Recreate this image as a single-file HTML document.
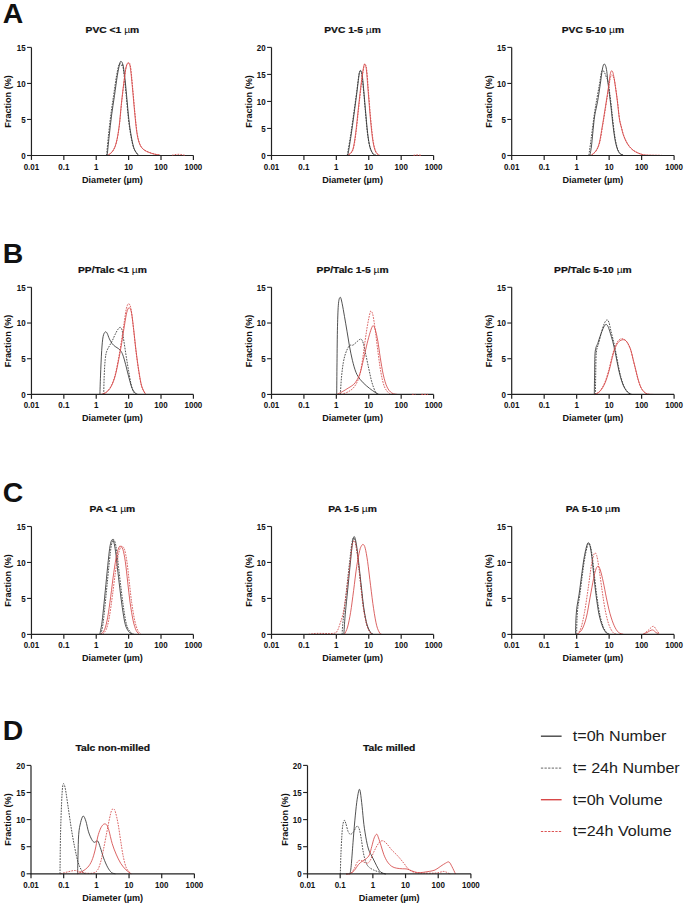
<!DOCTYPE html>
<html><head><meta charset="utf-8"><style>
html,body{margin:0;padding:0;background:#fff;}
svg{display:block;font-family:"Liberation Sans", sans-serif;}
text{fill:#111;}
</style></head><body>
<svg width="685" height="908" viewBox="0 0 685 908">
<text x="2.8" y="23.4" font-size="28.4" font-weight="bold">A</text>
<path d="M107.20,155.20 C107.53,151.98 108.47,142.58 109.20,135.90 C109.93,129.22 110.72,121.83 111.60,115.10 C112.48,108.37 113.55,102.05 114.50,95.50 C115.45,88.95 116.43,81.10 117.30,75.80 C118.17,70.50 119.05,66.10 119.70,63.70 C120.35,61.30 120.63,61.12 121.20,61.40 C121.77,61.68 122.48,62.62 123.10,65.40 C123.72,68.18 124.32,73.08 124.90,78.10 C125.48,83.12 125.93,88.57 126.60,95.50 C127.27,102.43 128.13,112.97 128.90,119.70 C129.67,126.43 130.33,131.08 131.20,135.90 C132.07,140.72 132.93,145.42 134.10,148.60 C135.27,151.78 137.52,153.93 138.20,155.00" fill="none" stroke="#333" stroke-width="0.85" stroke-linejoin="round"/>
<path d="M106.60,155.20 C106.90,152.00 107.70,142.70 108.40,136.00 C109.10,129.30 109.93,121.75 110.80,115.00 C111.67,108.25 112.65,102.00 113.60,95.50 C114.55,89.00 115.62,81.08 116.50,76.00 C117.38,70.92 118.27,67.13 118.90,65.00 C119.53,62.87 119.87,63.12 120.30,63.20 C120.73,63.28 121.12,65.23 121.50,65.50 C121.88,65.77 122.15,63.05 122.60,64.80 C123.05,66.55 123.60,70.88 124.20,76.00 C124.80,81.12 125.48,88.22 126.20,95.50 C126.92,102.78 127.72,112.95 128.50,119.70 C129.28,126.45 130.00,131.18 130.90,136.00 C131.80,140.82 132.72,145.43 133.90,148.60 C135.08,151.77 137.32,153.93 138.00,155.00" fill="none" stroke="#333" stroke-width="0.85" stroke-dasharray="1.7,1.1" stroke-linejoin="round"/>
<path d="M108.10,155.20 C108.87,154.50 111.35,153.05 112.70,151.00 C114.05,148.95 115.13,146.95 116.20,142.90 C117.27,138.85 118.23,133.25 119.10,126.70 C119.97,120.15 120.63,110.73 121.40,103.60 C122.17,96.47 122.93,89.88 123.70,83.90 C124.47,77.92 125.23,71.13 126.00,67.70 C126.77,64.27 127.58,63.30 128.30,63.30 C129.02,63.30 129.62,63.68 130.30,67.70 C130.98,71.72 131.67,79.88 132.40,87.40 C133.13,94.92 133.93,105.10 134.70,112.80 C135.47,120.50 136.13,128.30 137.00,133.60 C137.87,138.90 138.75,141.90 139.90,144.60 C141.05,147.30 142.27,148.45 143.90,149.80 C145.53,151.15 147.77,151.93 149.70,152.70 C151.63,153.47 153.78,153.98 155.50,154.40 C157.22,154.82 159.25,155.07 160.00,155.20" fill="none" stroke="#d44848" stroke-width="0.85" stroke-linejoin="round"/>
<path d="M108.30,155.20 C109.07,154.50 111.55,153.12 112.90,151.00 C114.25,148.88 115.33,146.67 116.40,142.50 C117.47,138.33 118.43,132.58 119.30,126.00 C120.17,119.42 120.83,110.17 121.60,103.00 C122.37,95.83 123.13,89.08 123.90,83.00 C124.67,76.92 125.42,69.92 126.20,66.50 C126.98,63.08 127.87,62.42 128.60,62.50 C129.33,62.58 129.93,62.92 130.60,67.00 C131.27,71.08 131.88,79.37 132.60,87.00 C133.32,94.63 134.13,105.03 134.90,112.80 C135.67,120.57 136.33,128.30 137.20,133.60 C138.07,138.90 138.95,141.90 140.10,144.60 C141.25,147.30 142.45,148.45 144.10,149.80 C145.75,151.15 148.02,151.93 150.00,152.70 C151.98,153.47 154.25,153.98 156.00,154.40 C157.75,154.82 159.75,155.07 160.50,155.20" fill="none" stroke="#d44848" stroke-width="0.85" stroke-dasharray="1.7,1.1" stroke-linejoin="round"/>
<path d="M31.45,47.40 V155.50 H193.40" fill="none" stroke="#222" stroke-width="1.2"/>
<path d="M172.00,155.20 C172.50,155.10 173.83,154.75 175.00,154.60 C176.17,154.45 177.67,154.25 179.00,154.30 C180.33,154.35 182.00,154.73 183.00,154.90 C184.00,155.07 184.67,155.23 185.00,155.30" fill="none" stroke="#d44848" stroke-width="0.85" stroke-dasharray="1.7,1.1"/>
<line x1="27.05" y1="155.50" x2="31.45" y2="155.50" stroke="#222" stroke-width="1.1"/>
<text transform="translate(25.65,158.80) scale(0.860,1)" font-size="9.30" font-weight="bold" text-anchor="end">0</text>
<line x1="27.05" y1="119.47" x2="31.45" y2="119.47" stroke="#222" stroke-width="1.1"/>
<text transform="translate(25.65,122.77) scale(0.860,1)" font-size="9.30" font-weight="bold" text-anchor="end">5</text>
<line x1="27.05" y1="83.43" x2="31.45" y2="83.43" stroke="#222" stroke-width="1.1"/>
<text transform="translate(25.65,86.73) scale(0.860,1)" font-size="9.30" font-weight="bold" text-anchor="end">10</text>
<line x1="27.05" y1="47.40" x2="31.45" y2="47.40" stroke="#222" stroke-width="1.1"/>
<text transform="translate(25.65,50.70) scale(0.860,1)" font-size="9.30" font-weight="bold" text-anchor="end">15</text>
<line x1="31.45" y1="155.50" x2="31.45" y2="159.90" stroke="#222" stroke-width="1.2"/>
<text transform="translate(31.45,169.50) scale(0.860,1)" font-size="9.30" font-weight="bold" text-anchor="middle">0.01</text>
<line x1="63.84" y1="155.50" x2="63.84" y2="159.90" stroke="#222" stroke-width="1.2"/>
<text transform="translate(63.84,169.50) scale(0.860,1)" font-size="9.30" font-weight="bold" text-anchor="middle">0.1</text>
<line x1="96.23" y1="155.50" x2="96.23" y2="159.90" stroke="#222" stroke-width="1.2"/>
<text transform="translate(96.23,169.50) scale(0.860,1)" font-size="9.30" font-weight="bold" text-anchor="middle">1</text>
<line x1="128.62" y1="155.50" x2="128.62" y2="159.90" stroke="#222" stroke-width="1.2"/>
<text transform="translate(128.62,169.50) scale(0.860,1)" font-size="9.30" font-weight="bold" text-anchor="middle">10</text>
<line x1="161.01" y1="155.50" x2="161.01" y2="159.90" stroke="#222" stroke-width="1.2"/>
<text transform="translate(161.01,169.50) scale(0.860,1)" font-size="9.30" font-weight="bold" text-anchor="middle">100</text>
<line x1="193.40" y1="155.50" x2="193.40" y2="159.90" stroke="#222" stroke-width="1.2"/>
<text transform="translate(193.40,169.50) scale(0.860,1)" font-size="9.30" font-weight="bold" text-anchor="middle">1000</text>
<text x="112.42" y="182.50" font-size="9.1" font-weight="bold" text-anchor="middle">Diameter (µm)</text>
<text transform="translate(11.45,101.45) rotate(-90)" font-size="9.1" font-weight="bold" text-anchor="middle">Fraction (%)</text>
<text transform="translate(112.42,32.70) scale(1.05,1)" font-size="9.8" font-weight="bold" text-anchor="middle" style="stroke:#111;stroke-width:0.22px">PVC <1 <tspan font-weight="normal" style="stroke:none">µ</tspan>m</text>
<path d="M347.90,155.20 C348.42,151.98 350.00,142.58 351.00,135.90 C352.00,129.22 352.93,122.22 353.90,115.10 C354.87,107.98 355.93,99.93 356.80,93.20 C357.67,86.47 358.53,78.47 359.10,74.70 C359.67,70.93 359.72,70.80 360.20,70.60 C360.68,70.40 361.42,70.32 362.00,73.50 C362.58,76.68 363.13,83.73 363.70,89.70 C364.27,95.67 364.73,101.98 365.40,109.30 C366.07,116.62 366.92,127.23 367.70,133.60 C368.48,139.97 369.13,144.03 370.10,147.50 C371.07,150.97 372.52,153.12 373.50,154.40 C374.48,155.68 375.58,155.07 376.00,155.20" fill="none" stroke="#333" stroke-width="0.85" stroke-linejoin="round"/>
<path d="M347.30,155.20 C347.83,151.98 349.47,142.58 350.50,135.90 C351.53,129.22 352.50,122.22 353.50,115.10 C354.50,107.98 355.62,99.80 356.50,93.20 C357.38,86.60 358.22,79.12 358.80,75.50 C359.38,71.88 359.52,71.75 360.00,71.50 C360.48,71.25 361.12,70.92 361.70,74.00 C362.28,77.08 362.92,84.12 363.50,90.00 C364.08,95.88 364.53,102.03 365.20,109.30 C365.87,116.57 366.70,127.23 367.50,133.60 C368.30,139.97 369.02,144.03 370.00,147.50 C370.98,150.97 372.40,153.12 373.40,154.40 C374.40,155.68 375.57,155.07 376.00,155.20" fill="none" stroke="#333" stroke-width="0.85" stroke-dasharray="1.7,1.1" stroke-linejoin="round"/>
<path d="M348.10,155.20 C348.87,154.30 351.45,153.40 352.70,149.80 C353.95,146.20 354.63,140.73 355.60,133.60 C356.57,126.47 357.53,115.67 358.50,107.00 C359.47,98.33 360.53,88.33 361.40,81.60 C362.27,74.87 363.12,69.40 363.70,66.60 C364.28,63.80 364.45,64.23 364.90,64.80 C365.35,65.37 365.83,65.27 366.40,70.00 C366.97,74.73 367.60,84.72 368.30,93.20 C369.00,101.68 369.82,112.82 370.60,120.90 C371.38,128.98 372.13,136.50 373.00,141.70 C373.87,146.90 374.75,149.85 375.80,152.10 C376.85,154.35 378.72,154.68 379.30,155.20" fill="none" stroke="#d44848" stroke-width="0.85" stroke-linejoin="round"/>
<path d="M348.50,155.20 C349.25,154.30 351.77,153.40 353.00,149.80 C354.23,146.20 354.93,140.73 355.90,133.60 C356.87,126.47 357.83,115.67 358.80,107.00 C359.77,98.33 360.83,88.43 361.70,81.60 C362.57,74.77 363.43,68.93 364.00,66.00 C364.57,63.07 364.65,63.42 365.10,64.00 C365.55,64.58 366.12,64.63 366.70,69.50 C367.28,74.37 367.90,84.63 368.60,93.20 C369.30,101.77 370.12,112.82 370.90,120.90 C371.68,128.98 372.43,136.50 373.30,141.70 C374.17,146.90 375.05,149.85 376.10,152.10 C377.15,154.35 379.02,154.68 379.60,155.20" fill="none" stroke="#d44848" stroke-width="0.85" stroke-dasharray="1.7,1.1" stroke-linejoin="round"/>
<path d="M271.50,47.40 V155.50 H433.60" fill="none" stroke="#222" stroke-width="1.2"/>
<path d="M413.50,155.30 C414.08,155.25 415.72,155.00 417.00,155.00 C418.28,155.00 420.50,155.25 421.20,155.30" fill="none" stroke="#d44848" stroke-width="1.00" stroke-dasharray="1.7,1.1"/>
<line x1="267.10" y1="155.50" x2="271.50" y2="155.50" stroke="#222" stroke-width="1.1"/>
<text transform="translate(265.70,158.80) scale(0.860,1)" font-size="9.30" font-weight="bold" text-anchor="end">0</text>
<line x1="267.10" y1="128.47" x2="271.50" y2="128.47" stroke="#222" stroke-width="1.1"/>
<text transform="translate(265.70,131.78) scale(0.860,1)" font-size="9.30" font-weight="bold" text-anchor="end">5</text>
<line x1="267.10" y1="101.45" x2="271.50" y2="101.45" stroke="#222" stroke-width="1.1"/>
<text transform="translate(265.70,104.75) scale(0.860,1)" font-size="9.30" font-weight="bold" text-anchor="end">10</text>
<line x1="267.10" y1="74.42" x2="271.50" y2="74.42" stroke="#222" stroke-width="1.1"/>
<text transform="translate(265.70,77.72) scale(0.860,1)" font-size="9.30" font-weight="bold" text-anchor="end">15</text>
<line x1="267.10" y1="47.40" x2="271.50" y2="47.40" stroke="#222" stroke-width="1.1"/>
<text transform="translate(265.70,50.70) scale(0.860,1)" font-size="9.30" font-weight="bold" text-anchor="end">20</text>
<line x1="271.50" y1="155.50" x2="271.50" y2="159.90" stroke="#222" stroke-width="1.2"/>
<text transform="translate(271.50,169.50) scale(0.860,1)" font-size="9.30" font-weight="bold" text-anchor="middle">0.01</text>
<line x1="303.92" y1="155.50" x2="303.92" y2="159.90" stroke="#222" stroke-width="1.2"/>
<text transform="translate(303.92,169.50) scale(0.860,1)" font-size="9.30" font-weight="bold" text-anchor="middle">0.1</text>
<line x1="336.34" y1="155.50" x2="336.34" y2="159.90" stroke="#222" stroke-width="1.2"/>
<text transform="translate(336.34,169.50) scale(0.860,1)" font-size="9.30" font-weight="bold" text-anchor="middle">1</text>
<line x1="368.76" y1="155.50" x2="368.76" y2="159.90" stroke="#222" stroke-width="1.2"/>
<text transform="translate(368.76,169.50) scale(0.860,1)" font-size="9.30" font-weight="bold" text-anchor="middle">10</text>
<line x1="401.18" y1="155.50" x2="401.18" y2="159.90" stroke="#222" stroke-width="1.2"/>
<text transform="translate(401.18,169.50) scale(0.860,1)" font-size="9.30" font-weight="bold" text-anchor="middle">100</text>
<line x1="433.60" y1="155.50" x2="433.60" y2="159.90" stroke="#222" stroke-width="1.2"/>
<text transform="translate(433.60,169.50) scale(0.860,1)" font-size="9.30" font-weight="bold" text-anchor="middle">1000</text>
<text x="352.55" y="182.50" font-size="9.1" font-weight="bold" text-anchor="middle">Diameter (µm)</text>
<text transform="translate(251.50,101.45) rotate(-90)" font-size="9.1" font-weight="bold" text-anchor="middle">Fraction (%)</text>
<text transform="translate(352.55,32.70) scale(1.05,1)" font-size="9.8" font-weight="bold" text-anchor="middle" style="stroke:#111;stroke-width:0.22px">PVC 1-5 <tspan font-weight="normal" style="stroke:none">µ</tspan>m</text>
<path d="M590.00,155.20 C590.25,153.67 591.07,149.37 591.50,146.00 C591.93,142.63 592.23,138.67 592.60,135.00 C592.97,131.33 593.32,127.42 593.70,124.00 C594.08,120.58 594.25,118.28 594.90,114.50 C595.55,110.72 596.72,106.25 597.60,101.30 C598.48,96.35 599.43,89.98 600.20,84.80 C600.97,79.62 601.60,73.62 602.20,70.20 C602.80,66.78 603.25,65.07 603.80,64.30 C604.35,63.53 605.00,64.40 605.50,65.60 C606.00,66.80 606.42,68.87 606.80,71.50 C607.18,74.13 607.35,77.53 607.80,81.40 C608.25,85.27 608.95,90.28 609.50,94.70 C610.05,99.12 610.68,104.27 611.10,107.90 C611.52,111.53 611.63,113.18 612.00,116.50 C612.37,119.82 612.80,123.93 613.30,127.80 C613.80,131.67 614.33,136.18 615.00,139.70 C615.67,143.22 616.48,146.58 617.30,148.90 C618.12,151.22 618.92,152.55 619.90,153.60 C620.88,154.65 622.65,154.93 623.20,155.20" fill="none" stroke="#333" stroke-width="0.85" stroke-linejoin="round"/>
<path d="M588.90,155.20 C589.28,152.38 590.30,145.08 591.20,138.30 C592.10,131.52 593.33,121.22 594.30,114.50 C595.27,107.78 596.13,103.08 597.00,98.00 C597.87,92.92 598.75,88.30 599.50,84.00 C600.25,79.70 600.93,74.45 601.50,72.20 C602.07,69.95 602.40,70.45 602.90,70.50 C603.40,70.55 603.93,71.42 604.50,72.50 C605.07,73.58 605.70,75.42 606.30,77.00 C606.90,78.58 607.50,79.05 608.10,82.00 C608.70,84.95 609.33,90.38 609.90,94.70 C610.47,99.02 611.08,104.27 611.50,107.90 C611.92,111.53 612.03,113.18 612.40,116.50 C612.77,119.82 613.20,123.93 613.70,127.80 C614.20,131.67 614.75,136.18 615.40,139.70 C616.05,143.22 616.80,146.58 617.60,148.90 C618.40,151.22 619.22,152.55 620.20,153.60 C621.18,154.65 622.95,154.93 623.50,155.20" fill="none" stroke="#333" stroke-width="0.85" stroke-dasharray="1.7,1.1" stroke-linejoin="round"/>
<path d="M591.20,155.20 C591.97,154.50 594.45,153.05 595.80,151.00 C597.15,148.95 598.23,146.95 599.30,142.90 C600.37,138.85 601.38,131.43 602.20,126.70 C603.02,121.97 603.43,119.28 604.20,114.50 C604.97,109.72 606.03,102.95 606.80,98.00 C607.57,93.05 608.25,88.67 608.80,84.80 C609.35,80.93 609.67,77.12 610.10,74.80 C610.53,72.48 610.95,71.33 611.40,70.90 C611.85,70.47 612.35,71.00 612.80,72.20 C613.25,73.40 613.67,75.68 614.10,78.10 C614.53,80.52 614.97,83.72 615.40,86.70 C615.83,89.68 616.30,92.95 616.70,96.00 C617.10,99.05 617.45,101.92 617.80,105.00 C618.15,108.08 618.45,111.70 618.80,114.50 C619.15,117.30 619.43,119.48 619.90,121.80 C620.37,124.12 621.05,126.30 621.60,128.40 C622.15,130.50 622.48,132.30 623.20,134.40 C623.92,136.50 624.90,139.02 625.90,141.00 C626.90,142.98 628.00,144.77 629.20,146.30 C630.40,147.83 631.67,149.10 633.10,150.20 C634.53,151.30 636.25,152.18 637.80,152.90 C639.35,153.62 640.87,154.12 642.40,154.50 C643.93,154.88 644.07,155.05 647.00,155.20 C649.93,155.35 657.83,155.37 660.00,155.40" fill="none" stroke="#d44848" stroke-width="0.85" stroke-linejoin="round"/>
<path d="M591.50,155.20 C592.27,154.50 594.75,153.05 596.10,151.00 C597.45,148.95 598.53,146.95 599.60,142.90 C600.67,138.85 601.68,131.43 602.50,126.70 C603.32,121.97 603.73,119.28 604.50,114.50 C605.27,109.72 606.33,102.83 607.10,98.00 C607.87,93.17 608.55,88.92 609.10,85.50 C609.65,82.08 609.95,79.28 610.40,77.50 C610.85,75.72 611.33,74.97 611.80,74.80 C612.27,74.63 612.77,75.63 613.20,76.50 C613.63,77.37 614.00,78.17 614.40,80.00 C614.80,81.83 615.18,84.75 615.60,87.50 C616.02,90.25 616.50,93.50 616.90,96.50 C617.30,99.50 617.65,102.45 618.00,105.50 C618.35,108.55 618.65,112.05 619.00,114.80 C619.35,117.55 619.63,119.70 620.10,122.00 C620.57,124.30 621.25,126.50 621.80,128.60 C622.35,130.70 622.68,132.50 623.40,134.60 C624.12,136.70 625.10,139.22 626.10,141.20 C627.10,143.18 628.20,144.97 629.40,146.50 C630.60,148.03 631.87,149.32 633.30,150.40 C634.73,151.48 636.45,152.30 638.00,153.00 C639.55,153.70 641.07,154.23 642.60,154.60 C644.13,154.97 643.97,155.07 647.20,155.20 C650.43,155.33 659.53,155.37 662.00,155.40" fill="none" stroke="#d44848" stroke-width="0.85" stroke-dasharray="1.7,1.1" stroke-linejoin="round"/>
<path d="M511.70,47.40 V155.50 H674.10" fill="none" stroke="#222" stroke-width="1.2"/>
<line x1="507.30" y1="155.50" x2="511.70" y2="155.50" stroke="#222" stroke-width="1.1"/>
<text transform="translate(505.90,158.80) scale(0.860,1)" font-size="9.30" font-weight="bold" text-anchor="end">0</text>
<line x1="507.30" y1="119.47" x2="511.70" y2="119.47" stroke="#222" stroke-width="1.1"/>
<text transform="translate(505.90,122.77) scale(0.860,1)" font-size="9.30" font-weight="bold" text-anchor="end">5</text>
<line x1="507.30" y1="83.43" x2="511.70" y2="83.43" stroke="#222" stroke-width="1.1"/>
<text transform="translate(505.90,86.73) scale(0.860,1)" font-size="9.30" font-weight="bold" text-anchor="end">10</text>
<line x1="507.30" y1="47.40" x2="511.70" y2="47.40" stroke="#222" stroke-width="1.1"/>
<text transform="translate(505.90,50.70) scale(0.860,1)" font-size="9.30" font-weight="bold" text-anchor="end">15</text>
<line x1="511.70" y1="155.50" x2="511.70" y2="159.90" stroke="#222" stroke-width="1.2"/>
<text transform="translate(511.70,169.50) scale(0.860,1)" font-size="9.30" font-weight="bold" text-anchor="middle">0.01</text>
<line x1="544.18" y1="155.50" x2="544.18" y2="159.90" stroke="#222" stroke-width="1.2"/>
<text transform="translate(544.18,169.50) scale(0.860,1)" font-size="9.30" font-weight="bold" text-anchor="middle">0.1</text>
<line x1="576.66" y1="155.50" x2="576.66" y2="159.90" stroke="#222" stroke-width="1.2"/>
<text transform="translate(576.66,169.50) scale(0.860,1)" font-size="9.30" font-weight="bold" text-anchor="middle">1</text>
<line x1="609.14" y1="155.50" x2="609.14" y2="159.90" stroke="#222" stroke-width="1.2"/>
<text transform="translate(609.14,169.50) scale(0.860,1)" font-size="9.30" font-weight="bold" text-anchor="middle">10</text>
<line x1="641.62" y1="155.50" x2="641.62" y2="159.90" stroke="#222" stroke-width="1.2"/>
<text transform="translate(641.62,169.50) scale(0.860,1)" font-size="9.30" font-weight="bold" text-anchor="middle">100</text>
<line x1="674.10" y1="155.50" x2="674.10" y2="159.90" stroke="#222" stroke-width="1.2"/>
<text transform="translate(674.10,169.50) scale(0.860,1)" font-size="9.30" font-weight="bold" text-anchor="middle">1000</text>
<text x="592.90" y="182.50" font-size="9.1" font-weight="bold" text-anchor="middle">Diameter (µm)</text>
<text transform="translate(491.70,101.45) rotate(-90)" font-size="9.1" font-weight="bold" text-anchor="middle">Fraction (%)</text>
<text transform="translate(592.90,32.70) scale(1.05,1)" font-size="9.8" font-weight="bold" text-anchor="middle" style="stroke:#111;stroke-width:0.22px">PVC 5-10 <tspan font-weight="normal" style="stroke:none">µ</tspan>m</text>
<text x="2.8" y="263.1" font-size="28.4" font-weight="bold">B</text>
<path d="M99.90,394.50 C100.00,391.40 100.20,383.23 100.50,375.90 C100.80,368.57 101.27,357.05 101.70,350.50 C102.13,343.95 102.52,339.68 103.10,336.60 C103.68,333.52 104.53,332.57 105.20,332.00 C105.87,331.43 106.40,332.05 107.10,333.20 C107.80,334.35 108.57,337.17 109.40,338.90 C110.23,340.63 111.13,342.33 112.10,343.60 C113.07,344.87 114.10,345.63 115.20,346.50 C116.30,347.37 117.68,347.93 118.70,348.80 C119.72,349.67 120.53,350.45 121.30,351.70 C122.07,352.95 122.58,354.18 123.30,356.30 C124.02,358.42 124.73,361.13 125.60,364.40 C126.47,367.67 127.53,372.23 128.50,375.90 C129.47,379.57 130.43,383.70 131.40,386.40 C132.37,389.10 133.23,390.75 134.30,392.10 C135.37,393.45 137.22,394.10 137.80,394.50" fill="none" stroke="#333" stroke-width="0.85" stroke-linejoin="round"/>
<path d="M103.70,394.50 C103.78,391.40 103.95,381.70 104.20,375.90 C104.45,370.10 104.80,363.75 105.20,359.70 C105.60,355.65 105.90,353.90 106.60,351.60 C107.30,349.30 108.45,347.72 109.40,345.90 C110.35,344.08 111.33,342.63 112.30,340.70 C113.27,338.77 114.23,336.23 115.20,334.30 C116.17,332.37 117.23,330.25 118.10,329.10 C118.97,327.95 119.72,327.12 120.40,327.40 C121.08,327.68 121.62,328.50 122.20,330.80 C122.78,333.10 123.23,336.95 123.90,341.20 C124.57,345.45 125.43,351.47 126.20,356.30 C126.97,361.13 127.73,365.77 128.50,370.20 C129.27,374.63 130.03,379.43 130.80,382.90 C131.57,386.37 132.23,389.07 133.10,391.00 C133.97,392.93 135.52,393.92 136.00,394.50" fill="none" stroke="#333" stroke-width="0.85" stroke-dasharray="1.7,1.1" stroke-linejoin="round"/>
<path d="M101.40,394.50 C102.27,394.10 104.97,393.45 106.60,392.10 C108.23,390.75 109.77,389.10 111.20,386.40 C112.63,383.70 113.95,380.35 115.20,375.90 C116.45,371.45 117.63,365.08 118.70,359.70 C119.77,354.32 120.63,349.37 121.60,343.60 C122.57,337.83 123.63,330.32 124.50,325.10 C125.37,319.88 126.03,315.20 126.80,312.30 C127.57,309.40 128.33,307.70 129.10,307.70 C129.87,307.70 130.63,308.63 131.40,312.30 C132.17,315.97 132.93,323.33 133.70,329.70 C134.47,336.07 135.13,343.57 136.00,350.50 C136.87,357.43 137.93,365.32 138.90,371.30 C139.87,377.28 140.65,382.53 141.80,386.40 C142.95,390.27 145.13,393.15 145.80,394.50" fill="none" stroke="#d44848" stroke-width="0.85" stroke-linejoin="round"/>
<path d="M101.20,394.50 C102.05,394.10 104.68,393.45 106.30,392.10 C107.92,390.75 109.47,389.10 110.90,386.40 C112.33,383.70 113.67,380.35 114.90,375.90 C116.13,371.45 117.25,365.25 118.30,359.70 C119.35,354.15 120.23,348.72 121.20,342.60 C122.17,336.48 123.23,328.68 124.10,323.00 C124.97,317.32 125.63,311.72 126.40,308.50 C127.17,305.28 127.93,303.62 128.70,303.70 C129.47,303.78 130.22,305.00 131.00,309.00 C131.78,313.00 132.60,320.95 133.40,327.70 C134.20,334.45 134.92,342.23 135.80,349.50 C136.68,356.77 137.73,365.15 138.70,371.30 C139.67,377.45 140.45,382.53 141.60,386.40 C142.75,390.27 144.93,393.15 145.60,394.50" fill="none" stroke="#d44848" stroke-width="0.85" stroke-dasharray="1.7,1.1" stroke-linejoin="round"/>
<path d="M31.45,287.30 V394.45 H193.40" fill="none" stroke="#222" stroke-width="1.2"/>
<line x1="27.05" y1="394.45" x2="31.45" y2="394.45" stroke="#222" stroke-width="1.1"/>
<text transform="translate(25.65,397.75) scale(0.860,1)" font-size="9.30" font-weight="bold" text-anchor="end">0</text>
<line x1="27.05" y1="358.73" x2="31.45" y2="358.73" stroke="#222" stroke-width="1.1"/>
<text transform="translate(25.65,362.03) scale(0.860,1)" font-size="9.30" font-weight="bold" text-anchor="end">5</text>
<line x1="27.05" y1="323.02" x2="31.45" y2="323.02" stroke="#222" stroke-width="1.1"/>
<text transform="translate(25.65,326.32) scale(0.860,1)" font-size="9.30" font-weight="bold" text-anchor="end">10</text>
<line x1="27.05" y1="287.30" x2="31.45" y2="287.30" stroke="#222" stroke-width="1.1"/>
<text transform="translate(25.65,290.60) scale(0.860,1)" font-size="9.30" font-weight="bold" text-anchor="end">15</text>
<line x1="31.45" y1="394.45" x2="31.45" y2="398.85" stroke="#222" stroke-width="1.2"/>
<text transform="translate(31.45,408.45) scale(0.860,1)" font-size="9.30" font-weight="bold" text-anchor="middle">0.01</text>
<line x1="63.84" y1="394.45" x2="63.84" y2="398.85" stroke="#222" stroke-width="1.2"/>
<text transform="translate(63.84,408.45) scale(0.860,1)" font-size="9.30" font-weight="bold" text-anchor="middle">0.1</text>
<line x1="96.23" y1="394.45" x2="96.23" y2="398.85" stroke="#222" stroke-width="1.2"/>
<text transform="translate(96.23,408.45) scale(0.860,1)" font-size="9.30" font-weight="bold" text-anchor="middle">1</text>
<line x1="128.62" y1="394.45" x2="128.62" y2="398.85" stroke="#222" stroke-width="1.2"/>
<text transform="translate(128.62,408.45) scale(0.860,1)" font-size="9.30" font-weight="bold" text-anchor="middle">10</text>
<line x1="161.01" y1="394.45" x2="161.01" y2="398.85" stroke="#222" stroke-width="1.2"/>
<text transform="translate(161.01,408.45) scale(0.860,1)" font-size="9.30" font-weight="bold" text-anchor="middle">100</text>
<line x1="193.40" y1="394.45" x2="193.40" y2="398.85" stroke="#222" stroke-width="1.2"/>
<text transform="translate(193.40,408.45) scale(0.860,1)" font-size="9.30" font-weight="bold" text-anchor="middle">1000</text>
<text x="112.42" y="421.45" font-size="9.1" font-weight="bold" text-anchor="middle">Diameter (µm)</text>
<text transform="translate(11.45,340.88) rotate(-90)" font-size="9.1" font-weight="bold" text-anchor="middle">Fraction (%)</text>
<text transform="translate(112.42,272.60) scale(1.05,1)" font-size="9.8" font-weight="bold" text-anchor="middle" style="stroke:#111;stroke-width:0.22px">PP/Talc <1 <tspan font-weight="normal" style="stroke:none">µ</tspan>m</text>
<path d="M336.70,394.50 C336.75,389.20 336.87,374.07 337.00,362.70 C337.13,351.33 337.25,336.20 337.50,326.30 C337.75,316.40 338.03,308.13 338.50,303.30 C338.97,298.47 339.70,297.30 340.30,297.30 C340.90,297.30 341.40,300.08 342.10,303.30 C342.80,306.52 343.68,311.95 344.50,316.60 C345.32,321.25 346.18,326.35 347.00,331.20 C347.82,336.05 348.50,340.85 349.40,345.70 C350.30,350.55 351.30,355.85 352.40,360.30 C353.50,364.75 354.68,369.18 356.00,372.40 C357.32,375.62 358.58,377.38 360.30,379.60 C362.02,381.82 364.28,383.88 366.30,385.70 C368.32,387.52 370.58,389.18 372.40,390.50 C374.22,391.82 376.10,392.93 377.20,393.60 C378.30,394.27 378.70,394.35 379.00,394.50" fill="none" stroke="#333" stroke-width="0.85" stroke-linejoin="round"/>
<path d="M340.30,394.50 C340.50,391.62 341.00,382.50 341.50,377.20 C342.00,371.90 342.60,366.73 343.30,362.70 C344.00,358.67 344.68,355.83 345.70,353.00 C346.72,350.17 348.18,347.02 349.40,345.70 C350.62,344.38 351.70,345.80 353.00,345.10 C354.30,344.40 355.88,342.50 357.20,341.50 C358.52,340.50 359.88,338.80 360.90,339.10 C361.92,339.40 362.50,340.78 363.30,343.30 C364.10,345.82 364.78,349.97 365.70,354.20 C366.62,358.43 367.78,364.07 368.80,368.70 C369.82,373.33 370.70,378.15 371.80,382.00 C372.90,385.85 374.30,389.72 375.40,391.80 C376.50,393.88 377.90,394.05 378.40,394.50" fill="none" stroke="#333" stroke-width="0.85" stroke-dasharray="1.7,1.1" stroke-linejoin="round"/>
<path d="M336.70,394.50 C337.60,394.05 340.18,392.87 342.10,391.80 C344.02,390.73 346.28,389.32 348.20,388.10 C350.12,386.88 352.10,385.92 353.60,384.50 C355.10,383.08 356.08,381.62 357.20,379.60 C358.32,377.58 359.28,375.62 360.30,372.40 C361.32,369.18 362.30,364.55 363.30,360.30 C364.30,356.05 365.28,351.15 366.30,346.90 C367.32,342.65 368.48,338.02 369.40,334.80 C370.32,331.58 371.13,329.12 371.80,327.60 C372.47,326.08 372.80,325.30 373.40,325.70 C374.00,326.10 374.67,327.47 375.40,330.00 C376.13,332.53 376.98,336.27 377.80,340.90 C378.62,345.53 379.38,352.15 380.30,357.80 C381.22,363.45 382.18,369.95 383.30,374.80 C384.42,379.65 385.58,383.87 387.00,386.90 C388.42,389.93 390.00,391.73 391.80,393.00 C393.60,394.27 396.80,394.25 397.80,394.50" fill="none" stroke="#d44848" stroke-width="0.85" stroke-linejoin="round"/>
<path d="M340.90,394.50 C342.12,394.05 345.98,393.07 348.20,391.80 C350.42,390.53 352.38,389.33 354.20,386.90 C356.02,384.47 357.78,381.23 359.10,377.20 C360.42,373.17 361.10,368.75 362.10,362.70 C363.10,356.65 364.20,347.17 365.10,340.90 C366.00,334.63 366.68,329.75 367.50,325.10 C368.32,320.45 369.38,315.32 370.00,313.00 C370.62,310.68 370.70,310.80 371.20,311.20 C371.70,311.60 372.30,312.07 373.00,315.40 C373.70,318.73 374.60,325.33 375.40,331.20 C376.20,337.07 376.88,343.73 377.80,350.60 C378.72,357.47 379.78,366.35 380.90,372.40 C382.02,378.45 383.08,383.37 384.50,386.90 C385.92,390.43 387.98,392.33 389.40,393.60 C390.82,394.87 392.40,394.35 393.00,394.50" fill="none" stroke="#d44848" stroke-width="0.85" stroke-dasharray="1.7,1.1" stroke-linejoin="round"/>
<path d="M271.50,287.30 V394.45 H433.60" fill="none" stroke="#222" stroke-width="1.2"/>
<path d="M411.90,394.40 C412.50,394.40 414.90,394.40 415.50,394.40" fill="none" stroke="#d44848" stroke-width="1.00" stroke-dasharray="1.7,1.1"/>
<path d="M421.40,394.40 C422.50,394.40 426.90,394.40 428.00,394.40" fill="none" stroke="#d44848" stroke-width="1.00" stroke-dasharray="1.7,1.1"/>
<line x1="267.10" y1="394.45" x2="271.50" y2="394.45" stroke="#222" stroke-width="1.1"/>
<text transform="translate(265.70,397.75) scale(0.860,1)" font-size="9.30" font-weight="bold" text-anchor="end">0</text>
<line x1="267.10" y1="358.73" x2="271.50" y2="358.73" stroke="#222" stroke-width="1.1"/>
<text transform="translate(265.70,362.03) scale(0.860,1)" font-size="9.30" font-weight="bold" text-anchor="end">5</text>
<line x1="267.10" y1="323.02" x2="271.50" y2="323.02" stroke="#222" stroke-width="1.1"/>
<text transform="translate(265.70,326.32) scale(0.860,1)" font-size="9.30" font-weight="bold" text-anchor="end">10</text>
<line x1="267.10" y1="287.30" x2="271.50" y2="287.30" stroke="#222" stroke-width="1.1"/>
<text transform="translate(265.70,290.60) scale(0.860,1)" font-size="9.30" font-weight="bold" text-anchor="end">15</text>
<line x1="271.50" y1="394.45" x2="271.50" y2="398.85" stroke="#222" stroke-width="1.2"/>
<text transform="translate(271.50,408.45) scale(0.860,1)" font-size="9.30" font-weight="bold" text-anchor="middle">0.01</text>
<line x1="303.92" y1="394.45" x2="303.92" y2="398.85" stroke="#222" stroke-width="1.2"/>
<text transform="translate(303.92,408.45) scale(0.860,1)" font-size="9.30" font-weight="bold" text-anchor="middle">0.1</text>
<line x1="336.34" y1="394.45" x2="336.34" y2="398.85" stroke="#222" stroke-width="1.2"/>
<text transform="translate(336.34,408.45) scale(0.860,1)" font-size="9.30" font-weight="bold" text-anchor="middle">1</text>
<line x1="368.76" y1="394.45" x2="368.76" y2="398.85" stroke="#222" stroke-width="1.2"/>
<text transform="translate(368.76,408.45) scale(0.860,1)" font-size="9.30" font-weight="bold" text-anchor="middle">10</text>
<line x1="401.18" y1="394.45" x2="401.18" y2="398.85" stroke="#222" stroke-width="1.2"/>
<text transform="translate(401.18,408.45) scale(0.860,1)" font-size="9.30" font-weight="bold" text-anchor="middle">100</text>
<line x1="433.60" y1="394.45" x2="433.60" y2="398.85" stroke="#222" stroke-width="1.2"/>
<text transform="translate(433.60,408.45) scale(0.860,1)" font-size="9.30" font-weight="bold" text-anchor="middle">1000</text>
<text x="352.55" y="421.45" font-size="9.1" font-weight="bold" text-anchor="middle">Diameter (µm)</text>
<text transform="translate(251.50,340.88) rotate(-90)" font-size="9.1" font-weight="bold" text-anchor="middle">Fraction (%)</text>
<text transform="translate(352.55,272.60) scale(1.05,1)" font-size="9.8" font-weight="bold" text-anchor="middle" style="stroke:#111;stroke-width:0.22px">PP/Talc 1-5 <tspan font-weight="normal" style="stroke:none">µ</tspan>m</text>
<path d="M594.30,394.50 C594.35,391.27 594.45,382.25 594.60,375.10 C594.75,367.95 594.63,357.00 595.20,351.60 C595.77,346.20 597.03,345.67 598.00,342.70 C598.97,339.73 600.02,336.45 601.00,333.80 C601.98,331.15 603.05,328.37 603.90,326.80 C604.75,325.23 605.42,324.45 606.10,324.40 C606.78,324.35 607.37,325.27 608.00,326.50 C608.63,327.73 609.10,329.27 609.90,331.80 C610.70,334.33 611.90,338.23 612.80,341.70 C613.70,345.17 614.47,348.63 615.30,352.60 C616.13,356.57 616.97,361.53 617.80,365.50 C618.63,369.47 619.32,372.93 620.30,376.40 C621.28,379.87 622.47,383.65 623.70,386.30 C624.93,388.95 626.37,390.93 627.70,392.30 C629.03,393.67 631.03,394.13 631.70,394.50" fill="none" stroke="#333" stroke-width="0.85" stroke-linejoin="round"/>
<path d="M595.40,394.50 C595.45,391.27 595.55,382.10 595.70,375.10 C595.85,368.10 595.82,357.77 596.30,352.50 C596.78,347.23 597.75,346.83 598.60,343.50 C599.45,340.17 600.45,335.83 601.40,332.50 C602.35,329.17 603.38,325.60 604.30,323.50 C605.22,321.40 606.12,320.07 606.90,319.90 C607.68,319.73 608.35,320.73 609.00,322.50 C609.65,324.27 610.05,327.38 610.80,330.50 C611.55,333.62 612.65,337.52 613.50,341.20 C614.35,344.88 615.10,348.55 615.90,352.60 C616.70,356.65 617.50,361.53 618.30,365.50 C619.10,369.47 619.75,372.93 620.70,376.40 C621.65,379.87 622.78,383.65 624.00,386.30 C625.22,388.95 626.67,390.93 628.00,392.30 C629.33,393.67 631.33,394.13 632.00,394.50" fill="none" stroke="#333" stroke-width="0.85" stroke-dasharray="1.7,1.1" stroke-linejoin="round"/>
<path d="M594.90,394.50 C595.75,393.97 598.33,393.17 600.00,391.30 C601.67,389.43 603.42,386.62 604.90,383.30 C606.38,379.98 607.67,375.68 608.90,371.40 C610.13,367.12 611.23,361.55 612.30,357.60 C613.37,353.65 614.22,350.35 615.30,347.70 C616.38,345.05 617.48,343.03 618.80,341.70 C620.12,340.37 621.85,339.67 623.20,339.70 C624.55,339.73 625.67,340.27 626.90,341.90 C628.13,343.53 629.50,346.35 630.60,349.50 C631.70,352.65 632.63,357.37 633.50,360.80 C634.37,364.23 635.03,367.02 635.80,370.10 C636.57,373.18 637.27,376.47 638.10,379.30 C638.93,382.13 639.83,385.03 640.80,387.10 C641.77,389.17 642.73,390.53 643.90,391.70 C645.07,392.87 646.00,393.63 647.80,394.10 C649.60,394.57 653.55,394.43 654.70,394.50" fill="none" stroke="#d44848" stroke-width="0.85" stroke-linejoin="round"/>
<path d="M594.60,394.50 C595.45,393.97 598.03,393.22 599.70,391.30 C601.37,389.38 603.12,386.42 604.60,383.00 C606.08,379.58 607.37,375.17 608.60,370.80 C609.83,366.43 610.93,360.85 612.00,356.80 C613.07,352.75 613.93,349.22 615.00,346.50 C616.07,343.78 617.27,341.80 618.40,340.50 C619.53,339.20 620.53,338.65 621.80,338.70 C623.07,338.75 624.58,339.12 626.00,340.80 C627.42,342.48 629.08,345.52 630.30,348.80 C631.52,352.08 632.40,356.95 633.30,360.50 C634.20,364.05 634.92,366.97 635.70,370.10 C636.48,373.23 637.17,376.47 638.00,379.30 C638.83,382.13 639.73,385.03 640.70,387.10 C641.67,389.17 642.63,390.53 643.80,391.70 C644.97,392.87 645.92,393.63 647.70,394.10 C649.48,394.57 653.37,394.43 654.50,394.50" fill="none" stroke="#d44848" stroke-width="0.85" stroke-dasharray="1.7,1.1" stroke-linejoin="round"/>
<path d="M511.70,287.30 V394.45 H674.10" fill="none" stroke="#222" stroke-width="1.2"/>
<line x1="507.30" y1="394.45" x2="511.70" y2="394.45" stroke="#222" stroke-width="1.1"/>
<text transform="translate(505.90,397.75) scale(0.860,1)" font-size="9.30" font-weight="bold" text-anchor="end">0</text>
<line x1="507.30" y1="358.73" x2="511.70" y2="358.73" stroke="#222" stroke-width="1.1"/>
<text transform="translate(505.90,362.03) scale(0.860,1)" font-size="9.30" font-weight="bold" text-anchor="end">5</text>
<line x1="507.30" y1="323.02" x2="511.70" y2="323.02" stroke="#222" stroke-width="1.1"/>
<text transform="translate(505.90,326.32) scale(0.860,1)" font-size="9.30" font-weight="bold" text-anchor="end">10</text>
<line x1="507.30" y1="287.30" x2="511.70" y2="287.30" stroke="#222" stroke-width="1.1"/>
<text transform="translate(505.90,290.60) scale(0.860,1)" font-size="9.30" font-weight="bold" text-anchor="end">15</text>
<line x1="511.70" y1="394.45" x2="511.70" y2="398.85" stroke="#222" stroke-width="1.2"/>
<text transform="translate(511.70,408.45) scale(0.860,1)" font-size="9.30" font-weight="bold" text-anchor="middle">0.01</text>
<line x1="544.18" y1="394.45" x2="544.18" y2="398.85" stroke="#222" stroke-width="1.2"/>
<text transform="translate(544.18,408.45) scale(0.860,1)" font-size="9.30" font-weight="bold" text-anchor="middle">0.1</text>
<line x1="576.66" y1="394.45" x2="576.66" y2="398.85" stroke="#222" stroke-width="1.2"/>
<text transform="translate(576.66,408.45) scale(0.860,1)" font-size="9.30" font-weight="bold" text-anchor="middle">1</text>
<line x1="609.14" y1="394.45" x2="609.14" y2="398.85" stroke="#222" stroke-width="1.2"/>
<text transform="translate(609.14,408.45) scale(0.860,1)" font-size="9.30" font-weight="bold" text-anchor="middle">10</text>
<line x1="641.62" y1="394.45" x2="641.62" y2="398.85" stroke="#222" stroke-width="1.2"/>
<text transform="translate(641.62,408.45) scale(0.860,1)" font-size="9.30" font-weight="bold" text-anchor="middle">100</text>
<line x1="674.10" y1="394.45" x2="674.10" y2="398.85" stroke="#222" stroke-width="1.2"/>
<text transform="translate(674.10,408.45) scale(0.860,1)" font-size="9.30" font-weight="bold" text-anchor="middle">1000</text>
<text x="592.90" y="421.45" font-size="9.1" font-weight="bold" text-anchor="middle">Diameter (µm)</text>
<text transform="translate(491.70,340.88) rotate(-90)" font-size="9.1" font-weight="bold" text-anchor="middle">Fraction (%)</text>
<text transform="translate(592.90,272.60) scale(1.05,1)" font-size="9.8" font-weight="bold" text-anchor="middle" style="stroke:#111;stroke-width:0.22px">PP/Talc 5-10 <tspan font-weight="normal" style="stroke:none">µ</tspan>m</text>
<text x="2.8" y="501.6" font-size="28.4" font-weight="bold">C</text>
<path d="M99.80,634.20 C100.12,632.58 101.08,628.75 101.70,624.50 C102.32,620.25 102.80,615.37 103.50,608.70 C104.20,602.03 105.10,592.57 105.90,584.50 C106.70,576.43 107.60,566.77 108.30,560.30 C109.00,553.83 109.48,549.13 110.10,545.70 C110.72,542.27 111.38,540.30 112.00,539.70 C112.62,539.10 113.20,540.08 113.80,542.10 C114.40,544.12 115.00,547.55 115.60,551.80 C116.20,556.05 116.70,561.55 117.40,567.60 C118.10,573.65 118.98,581.45 119.80,588.10 C120.62,594.75 121.38,601.43 122.30,607.50 C123.22,613.57 124.20,620.45 125.30,624.50 C126.40,628.55 127.68,630.18 128.90,631.80 C130.12,633.42 131.98,633.80 132.60,634.20" fill="none" stroke="#333" stroke-width="0.85" stroke-linejoin="round"/>
<path d="M101.00,634.20 C101.32,632.58 102.28,628.75 102.90,624.50 C103.52,620.25 104.00,615.37 104.70,608.70 C105.40,602.03 106.30,592.57 107.10,584.50 C107.90,576.43 108.80,566.77 109.50,560.30 C110.20,553.83 110.68,549.13 111.30,545.70 C111.92,542.27 112.58,540.30 113.20,539.70 C113.82,539.10 114.40,540.08 115.00,542.10 C115.60,544.12 116.20,547.55 116.80,551.80 C117.40,556.05 117.90,561.55 118.60,567.60 C119.30,573.65 120.18,581.45 121.00,588.10 C121.82,594.75 122.58,601.43 123.50,607.50 C124.42,613.57 125.40,620.45 126.50,624.50 C127.60,628.55 128.88,630.18 130.10,631.80 C131.32,633.42 133.18,633.80 133.80,634.20" fill="none" stroke="#333" stroke-width="0.85" stroke-dasharray="1.7,1.1" stroke-linejoin="round"/>
<path d="M101.00,634.20 C101.62,633.38 103.58,632.13 104.70,629.30 C105.82,626.47 106.70,622.65 107.70,617.20 C108.70,611.75 109.68,604.07 110.70,596.60 C111.72,589.13 112.78,579.47 113.80,572.40 C114.82,565.33 115.90,558.43 116.80,554.20 C117.70,549.97 118.55,548.30 119.20,547.00 C119.85,545.70 120.08,546.00 120.70,546.40 C121.32,546.80 122.13,546.88 122.90,549.40 C123.67,551.92 124.50,556.05 125.30,561.50 C126.10,566.95 126.90,575.23 127.70,582.10 C128.50,588.97 129.18,596.23 130.10,602.70 C131.02,609.17 132.18,616.27 133.20,620.90 C134.22,625.53 135.20,628.28 136.20,630.50 C137.20,632.72 138.70,633.58 139.20,634.20" fill="none" stroke="#d44848" stroke-width="0.85" stroke-linejoin="round"/>
<path d="M102.60,634.20 C103.22,633.38 105.18,632.13 106.30,629.30 C107.42,626.47 108.30,622.65 109.30,617.20 C110.30,611.75 111.28,604.07 112.30,596.60 C113.32,589.13 114.38,579.47 115.40,572.40 C116.42,565.33 117.50,558.43 118.40,554.20 C119.30,549.97 120.15,548.30 120.80,547.00 C121.45,545.70 121.68,546.00 122.30,546.40 C122.92,546.80 123.73,546.88 124.50,549.40 C125.27,551.92 126.10,556.05 126.90,561.50 C127.70,566.95 128.50,575.23 129.30,582.10 C130.10,588.97 130.78,596.23 131.70,602.70 C132.62,609.17 133.78,616.27 134.80,620.90 C135.82,625.53 136.80,628.28 137.80,630.50 C138.80,632.72 140.30,633.58 140.80,634.20" fill="none" stroke="#d44848" stroke-width="0.85" stroke-dasharray="1.7,1.1" stroke-linejoin="round"/>
<path d="M31.45,526.50 V634.40 H193.40" fill="none" stroke="#222" stroke-width="1.2"/>
<line x1="27.05" y1="634.40" x2="31.45" y2="634.40" stroke="#222" stroke-width="1.1"/>
<text transform="translate(25.65,637.70) scale(0.860,1)" font-size="9.30" font-weight="bold" text-anchor="end">0</text>
<line x1="27.05" y1="598.43" x2="31.45" y2="598.43" stroke="#222" stroke-width="1.1"/>
<text transform="translate(25.65,601.73) scale(0.860,1)" font-size="9.30" font-weight="bold" text-anchor="end">5</text>
<line x1="27.05" y1="562.47" x2="31.45" y2="562.47" stroke="#222" stroke-width="1.1"/>
<text transform="translate(25.65,565.77) scale(0.860,1)" font-size="9.30" font-weight="bold" text-anchor="end">10</text>
<line x1="27.05" y1="526.50" x2="31.45" y2="526.50" stroke="#222" stroke-width="1.1"/>
<text transform="translate(25.65,529.80) scale(0.860,1)" font-size="9.30" font-weight="bold" text-anchor="end">15</text>
<line x1="31.45" y1="634.40" x2="31.45" y2="638.80" stroke="#222" stroke-width="1.2"/>
<text transform="translate(31.45,648.40) scale(0.860,1)" font-size="9.30" font-weight="bold" text-anchor="middle">0.01</text>
<line x1="63.84" y1="634.40" x2="63.84" y2="638.80" stroke="#222" stroke-width="1.2"/>
<text transform="translate(63.84,648.40) scale(0.860,1)" font-size="9.30" font-weight="bold" text-anchor="middle">0.1</text>
<line x1="96.23" y1="634.40" x2="96.23" y2="638.80" stroke="#222" stroke-width="1.2"/>
<text transform="translate(96.23,648.40) scale(0.860,1)" font-size="9.30" font-weight="bold" text-anchor="middle">1</text>
<line x1="128.62" y1="634.40" x2="128.62" y2="638.80" stroke="#222" stroke-width="1.2"/>
<text transform="translate(128.62,648.40) scale(0.860,1)" font-size="9.30" font-weight="bold" text-anchor="middle">10</text>
<line x1="161.01" y1="634.40" x2="161.01" y2="638.80" stroke="#222" stroke-width="1.2"/>
<text transform="translate(161.01,648.40) scale(0.860,1)" font-size="9.30" font-weight="bold" text-anchor="middle">100</text>
<line x1="193.40" y1="634.40" x2="193.40" y2="638.80" stroke="#222" stroke-width="1.2"/>
<text transform="translate(193.40,648.40) scale(0.860,1)" font-size="9.30" font-weight="bold" text-anchor="middle">1000</text>
<text x="112.42" y="661.40" font-size="9.1" font-weight="bold" text-anchor="middle">Diameter (µm)</text>
<text transform="translate(11.45,580.45) rotate(-90)" font-size="9.1" font-weight="bold" text-anchor="middle">Fraction (%)</text>
<text transform="translate(112.42,511.80) scale(1.05,1)" font-size="9.8" font-weight="bold" text-anchor="middle" style="stroke:#111;stroke-width:0.22px">PA <1 <tspan font-weight="normal" style="stroke:none">µ</tspan>m</text>
<path d="M343.90,634.20 C343.97,633.00 344.08,630.23 344.30,627.00 C344.52,623.77 344.75,619.87 345.20,614.80 C345.65,609.73 346.40,602.65 347.00,596.60 C347.60,590.55 348.20,584.55 348.80,578.50 C349.40,572.45 350.00,566.17 350.60,560.30 C351.20,554.43 351.85,547.23 352.40,543.30 C352.95,539.37 353.38,537.30 353.90,536.70 C354.42,536.10 354.93,537.38 355.50,539.70 C356.07,542.02 356.70,546.15 357.30,550.60 C357.90,555.05 358.40,560.15 359.10,566.40 C359.80,572.65 360.70,581.05 361.50,588.10 C362.30,595.15 362.98,602.63 363.90,608.70 C364.82,614.77 365.88,620.55 367.00,624.50 C368.12,628.45 369.60,630.78 370.60,632.40 C371.60,634.02 372.60,633.90 373.00,634.20" fill="none" stroke="#333" stroke-width="0.85" stroke-linejoin="round"/>
<path d="M342.10,634.20 C342.18,632.83 342.32,629.37 342.60,626.00 C342.88,622.63 343.27,618.90 343.80,614.00 C344.33,609.10 345.13,602.52 345.80,596.60 C346.47,590.68 347.13,584.55 347.80,578.50 C348.47,572.45 349.13,566.08 349.80,560.30 C350.47,554.52 351.20,547.52 351.80,543.80 C352.40,540.08 352.87,538.55 353.40,538.00 C353.93,537.45 354.42,538.33 355.00,540.50 C355.58,542.67 356.27,546.58 356.90,551.00 C357.53,555.42 358.08,560.75 358.80,567.00 C359.52,573.25 360.38,581.50 361.20,588.50 C362.02,595.50 362.77,602.95 363.70,609.00 C364.63,615.05 365.68,620.87 366.80,624.80 C367.92,628.73 369.40,631.03 370.40,632.60 C371.40,634.17 372.40,633.93 372.80,634.20" fill="none" stroke="#333" stroke-width="0.85" stroke-dasharray="1.7,1.1" stroke-linejoin="round"/>
<path d="M344.50,634.20 C345.02,633.00 346.58,630.63 347.60,627.00 C348.62,623.37 349.60,618.47 350.60,612.40 C351.60,606.33 352.58,598.27 353.60,590.60 C354.62,582.93 355.68,573.07 356.70,566.40 C357.72,559.73 358.90,554.03 359.70,550.60 C360.50,547.17 360.90,546.82 361.50,545.80 C362.10,544.78 362.68,544.10 363.30,544.50 C363.92,544.90 364.48,545.37 365.20,548.20 C365.92,551.03 366.70,555.25 367.60,561.50 C368.50,567.75 369.60,577.83 370.60,585.70 C371.60,593.57 372.58,602.03 373.60,608.70 C374.62,615.37 375.68,621.65 376.70,625.70 C377.72,629.75 378.90,631.58 379.70,633.00 C380.50,634.42 381.20,634.00 381.50,634.20" fill="none" stroke="#d44848" stroke-width="0.85" stroke-linejoin="round"/>
<path d="M308.50,634.30 C309.87,634.15 312.60,633.55 316.70,633.40 C320.80,633.25 329.68,633.80 333.10,633.40 C336.52,633.00 336.03,632.67 337.20,631.00 C338.37,629.33 339.13,626.23 340.10,623.40 C341.07,620.57 342.15,617.73 343.00,614.00 C343.85,610.27 344.23,607.73 345.20,601.00 C346.17,594.27 347.70,582.40 348.80,573.60 C349.90,564.80 351.00,553.65 351.80,548.20 C352.60,542.75 352.98,541.72 353.60,540.90 C354.22,540.08 354.78,540.47 355.50,543.30 C356.22,546.13 357.10,551.63 357.90,557.90 C358.70,564.17 359.40,572.63 360.30,580.90 C361.20,589.17 362.18,600.03 363.30,607.50 C364.42,614.97 365.78,621.45 367.00,625.70 C368.22,629.95 369.70,631.57 370.60,633.00 C371.50,634.43 372.10,634.08 372.40,634.30" fill="none" stroke="#d44848" stroke-width="0.85" stroke-dasharray="1.7,1.1" stroke-linejoin="round"/>
<path d="M271.50,526.50 V634.40 H433.60" fill="none" stroke="#222" stroke-width="1.2"/>
<line x1="267.10" y1="634.40" x2="271.50" y2="634.40" stroke="#222" stroke-width="1.1"/>
<text transform="translate(265.70,637.70) scale(0.860,1)" font-size="9.30" font-weight="bold" text-anchor="end">0</text>
<line x1="267.10" y1="598.43" x2="271.50" y2="598.43" stroke="#222" stroke-width="1.1"/>
<text transform="translate(265.70,601.73) scale(0.860,1)" font-size="9.30" font-weight="bold" text-anchor="end">5</text>
<line x1="267.10" y1="562.47" x2="271.50" y2="562.47" stroke="#222" stroke-width="1.1"/>
<text transform="translate(265.70,565.77) scale(0.860,1)" font-size="9.30" font-weight="bold" text-anchor="end">10</text>
<line x1="267.10" y1="526.50" x2="271.50" y2="526.50" stroke="#222" stroke-width="1.1"/>
<text transform="translate(265.70,529.80) scale(0.860,1)" font-size="9.30" font-weight="bold" text-anchor="end">15</text>
<line x1="271.50" y1="634.40" x2="271.50" y2="638.80" stroke="#222" stroke-width="1.2"/>
<text transform="translate(271.50,648.40) scale(0.860,1)" font-size="9.30" font-weight="bold" text-anchor="middle">0.01</text>
<line x1="303.92" y1="634.40" x2="303.92" y2="638.80" stroke="#222" stroke-width="1.2"/>
<text transform="translate(303.92,648.40) scale(0.860,1)" font-size="9.30" font-weight="bold" text-anchor="middle">0.1</text>
<line x1="336.34" y1="634.40" x2="336.34" y2="638.80" stroke="#222" stroke-width="1.2"/>
<text transform="translate(336.34,648.40) scale(0.860,1)" font-size="9.30" font-weight="bold" text-anchor="middle">1</text>
<line x1="368.76" y1="634.40" x2="368.76" y2="638.80" stroke="#222" stroke-width="1.2"/>
<text transform="translate(368.76,648.40) scale(0.860,1)" font-size="9.30" font-weight="bold" text-anchor="middle">10</text>
<line x1="401.18" y1="634.40" x2="401.18" y2="638.80" stroke="#222" stroke-width="1.2"/>
<text transform="translate(401.18,648.40) scale(0.860,1)" font-size="9.30" font-weight="bold" text-anchor="middle">100</text>
<line x1="433.60" y1="634.40" x2="433.60" y2="638.80" stroke="#222" stroke-width="1.2"/>
<text transform="translate(433.60,648.40) scale(0.860,1)" font-size="9.30" font-weight="bold" text-anchor="middle">1000</text>
<text x="352.55" y="661.40" font-size="9.1" font-weight="bold" text-anchor="middle">Diameter (µm)</text>
<text transform="translate(251.50,580.45) rotate(-90)" font-size="9.1" font-weight="bold" text-anchor="middle">Fraction (%)</text>
<text transform="translate(352.55,511.80) scale(1.05,1)" font-size="9.8" font-weight="bold" text-anchor="middle" style="stroke:#111;stroke-width:0.22px">PA 1-5 <tspan font-weight="normal" style="stroke:none">µ</tspan>m</text>
<path d="M575.50,634.20 C575.55,632.18 575.60,626.33 575.80,622.10 C576.00,617.87 576.15,613.45 576.70,608.80 C577.25,604.15 578.30,599.65 579.10,594.20 C579.90,588.75 580.70,581.95 581.50,576.10 C582.30,570.25 583.08,563.95 583.90,559.10 C584.72,554.25 585.68,549.73 586.40,547.00 C587.12,544.27 587.60,542.90 588.20,542.70 C588.80,542.50 589.40,543.47 590.00,545.80 C590.60,548.13 591.20,552.07 591.80,556.70 C592.40,561.33 592.88,567.13 593.60,573.60 C594.32,580.07 595.18,588.63 596.10,595.50 C597.02,602.37 598.00,609.55 599.10,614.80 C600.20,620.05 601.48,623.97 602.70,627.00 C603.92,630.03 605.28,631.80 606.40,633.00 C607.52,634.20 608.90,634.00 609.40,634.20" fill="none" stroke="#333" stroke-width="0.85" stroke-linejoin="round"/>
<path d="M576.60,634.20 C576.65,632.18 576.72,626.33 576.90,622.10 C577.08,617.87 577.20,613.45 577.70,608.80 C578.20,604.15 579.15,599.65 579.90,594.20 C580.65,588.75 581.42,581.95 582.20,576.10 C582.98,570.25 583.80,563.87 584.60,559.10 C585.40,554.33 586.32,550.10 587.00,547.50 C587.68,544.90 588.12,543.67 588.70,543.50 C589.28,543.33 589.88,544.17 590.50,546.50 C591.12,548.83 591.77,552.83 592.40,557.50 C593.03,562.17 593.55,568.00 594.30,574.50 C595.05,581.00 595.95,589.67 596.90,596.50 C597.85,603.33 598.88,610.33 600.00,615.50 C601.12,620.67 602.38,624.55 603.60,627.50 C604.82,630.45 606.20,632.08 607.30,633.20 C608.40,634.32 609.72,634.03 610.20,634.20" fill="none" stroke="#333" stroke-width="0.85" stroke-dasharray="1.7,1.1" stroke-linejoin="round"/>
<path d="M577.30,634.20 C578.10,633.38 580.58,632.13 582.10,629.30 C583.62,626.47 585.08,622.43 586.40,617.20 C587.72,611.97 588.80,604.35 590.00,597.90 C591.20,591.45 592.58,583.35 593.60,578.50 C594.62,573.65 595.35,570.82 596.10,568.80 C596.85,566.78 597.40,566.20 598.10,566.40 C598.80,566.60 599.43,567.38 600.30,570.00 C601.17,572.62 602.28,577.45 603.30,582.10 C604.32,586.75 605.28,592.65 606.40,597.90 C607.52,603.15 608.70,608.97 610.00,613.60 C611.30,618.23 612.78,622.57 614.20,625.70 C615.62,628.83 616.98,630.98 618.50,632.40 C620.02,633.82 622.50,633.90 623.30,634.20" fill="none" stroke="#d44848" stroke-width="0.85" stroke-linejoin="round"/>
<path d="M577.30,634.20 C577.90,633.20 579.70,631.83 580.90,628.20 C582.10,624.57 583.28,619.07 584.50,612.40 C585.72,605.73 587.08,595.87 588.20,588.20 C589.32,580.53 590.30,571.85 591.20,566.40 C592.10,560.95 593.00,557.73 593.60,555.50 C594.20,553.27 594.28,553.00 594.80,553.00 C595.32,553.00 595.98,552.87 596.70,555.50 C597.42,558.13 598.20,562.95 599.10,568.80 C600.00,574.65 601.08,583.73 602.10,590.60 C603.12,597.47 604.08,604.35 605.20,610.00 C606.32,615.65 607.50,620.77 608.80,624.50 C610.10,628.23 611.68,630.78 613.00,632.40 C614.32,634.02 616.08,633.90 616.70,634.20" fill="none" stroke="#d44848" stroke-width="0.85" stroke-dasharray="1.7,1.1" stroke-linejoin="round"/>
<path d="M642.80,634.20 C643.50,633.92 645.42,633.22 647.00,632.50 C648.58,631.78 650.80,629.90 652.30,629.90 C653.80,629.90 654.85,631.78 656.00,632.50 C657.15,633.22 658.67,633.92 659.20,634.20" fill="none" stroke="#d44848" stroke-width="0.85" stroke-linejoin="round"/>
<path d="M643.50,634.20 C644.25,633.58 646.38,631.82 648.00,630.50 C649.62,629.18 651.78,626.38 653.20,626.30 C654.62,626.22 655.45,628.68 656.50,630.00 C657.55,631.32 659.00,633.50 659.50,634.20" fill="none" stroke="#d44848" stroke-width="0.85" stroke-dasharray="1.7,1.1" stroke-linejoin="round"/>
<path d="M511.70,526.50 V634.40 H674.10" fill="none" stroke="#222" stroke-width="1.2"/>
<line x1="507.30" y1="634.40" x2="511.70" y2="634.40" stroke="#222" stroke-width="1.1"/>
<text transform="translate(505.90,637.70) scale(0.860,1)" font-size="9.30" font-weight="bold" text-anchor="end">0</text>
<line x1="507.30" y1="598.43" x2="511.70" y2="598.43" stroke="#222" stroke-width="1.1"/>
<text transform="translate(505.90,601.73) scale(0.860,1)" font-size="9.30" font-weight="bold" text-anchor="end">5</text>
<line x1="507.30" y1="562.47" x2="511.70" y2="562.47" stroke="#222" stroke-width="1.1"/>
<text transform="translate(505.90,565.77) scale(0.860,1)" font-size="9.30" font-weight="bold" text-anchor="end">10</text>
<line x1="507.30" y1="526.50" x2="511.70" y2="526.50" stroke="#222" stroke-width="1.1"/>
<text transform="translate(505.90,529.80) scale(0.860,1)" font-size="9.30" font-weight="bold" text-anchor="end">15</text>
<line x1="511.70" y1="634.40" x2="511.70" y2="638.80" stroke="#222" stroke-width="1.2"/>
<text transform="translate(511.70,648.40) scale(0.860,1)" font-size="9.30" font-weight="bold" text-anchor="middle">0.01</text>
<line x1="544.18" y1="634.40" x2="544.18" y2="638.80" stroke="#222" stroke-width="1.2"/>
<text transform="translate(544.18,648.40) scale(0.860,1)" font-size="9.30" font-weight="bold" text-anchor="middle">0.1</text>
<line x1="576.66" y1="634.40" x2="576.66" y2="638.80" stroke="#222" stroke-width="1.2"/>
<text transform="translate(576.66,648.40) scale(0.860,1)" font-size="9.30" font-weight="bold" text-anchor="middle">1</text>
<line x1="609.14" y1="634.40" x2="609.14" y2="638.80" stroke="#222" stroke-width="1.2"/>
<text transform="translate(609.14,648.40) scale(0.860,1)" font-size="9.30" font-weight="bold" text-anchor="middle">10</text>
<line x1="641.62" y1="634.40" x2="641.62" y2="638.80" stroke="#222" stroke-width="1.2"/>
<text transform="translate(641.62,648.40) scale(0.860,1)" font-size="9.30" font-weight="bold" text-anchor="middle">100</text>
<line x1="674.10" y1="634.40" x2="674.10" y2="638.80" stroke="#222" stroke-width="1.2"/>
<text transform="translate(674.10,648.40) scale(0.860,1)" font-size="9.30" font-weight="bold" text-anchor="middle">1000</text>
<text x="592.90" y="661.40" font-size="9.1" font-weight="bold" text-anchor="middle">Diameter (µm)</text>
<text transform="translate(491.70,580.45) rotate(-90)" font-size="9.1" font-weight="bold" text-anchor="middle">Fraction (%)</text>
<text transform="translate(592.90,511.80) scale(1.05,1)" font-size="9.8" font-weight="bold" text-anchor="middle" style="stroke:#111;stroke-width:0.22px">PA 5-10 <tspan font-weight="normal" style="stroke:none">µ</tspan>m</text>
<text x="2.8" y="739.7" font-size="28.4" font-weight="bold">D</text>
<path d="M77.60,873.80 C77.67,870.73 77.82,861.97 78.00,855.40 C78.18,848.83 78.27,839.87 78.70,834.40 C79.13,828.93 79.85,825.67 80.60,822.60 C81.35,819.53 82.32,816.23 83.20,816.00 C84.08,815.77 85.02,818.57 85.90,821.20 C86.78,823.83 87.52,828.73 88.50,831.80 C89.48,834.87 90.82,837.85 91.80,839.60 C92.78,841.35 93.42,842.07 94.40,842.30 C95.38,842.53 96.72,840.13 97.70,841.00 C98.68,841.87 99.32,844.67 100.30,847.50 C101.28,850.33 102.38,854.72 103.60,858.00 C104.82,861.28 106.28,864.78 107.60,867.20 C108.92,869.62 110.20,871.40 111.50,872.50 C112.80,873.60 114.75,873.58 115.40,873.80" fill="none" stroke="#333" stroke-width="0.85" stroke-linejoin="round"/>
<path d="M60.00,873.80 C60.08,867.45 60.23,847.53 60.50,835.70 C60.77,823.87 61.25,810.90 61.60,802.80 C61.95,794.70 62.23,790.27 62.60,787.10 C62.97,783.93 63.32,783.37 63.80,783.80 C64.28,784.23 64.78,785.87 65.50,789.70 C66.22,793.53 67.12,800.23 68.10,806.80 C69.08,813.37 70.30,822.32 71.40,829.10 C72.50,835.88 73.60,842.02 74.70,847.50 C75.80,852.98 76.90,858.27 78.00,862.00 C79.10,865.73 80.32,868.05 81.30,869.90 C82.28,871.75 83.12,872.45 83.90,873.10 C84.68,873.75 85.65,873.68 86.00,873.80" fill="none" stroke="#333" stroke-width="0.85" stroke-dasharray="1.7,1.1" stroke-linejoin="round"/>
<path d="M77.30,873.80 C78.18,873.37 80.85,872.30 82.60,871.20 C84.35,870.10 86.27,868.95 87.80,867.20 C89.33,865.45 90.58,863.55 91.80,860.70 C93.02,857.85 94.12,854.05 95.10,850.10 C96.08,846.15 96.83,840.50 97.70,837.00 C98.57,833.50 99.48,831.07 100.30,829.10 C101.12,827.13 101.87,826.07 102.60,825.20 C103.33,824.33 103.98,823.90 104.70,823.90 C105.42,823.90 106.20,824.12 106.90,825.20 C107.60,826.28 108.02,827.33 108.90,830.40 C109.78,833.47 111.00,839.65 112.20,843.60 C113.40,847.55 114.68,850.82 116.10,854.10 C117.52,857.38 119.05,860.67 120.70,863.30 C122.35,865.93 124.25,868.15 126.00,869.90 C127.75,871.65 130.33,873.15 131.20,873.80" fill="none" stroke="#d44848" stroke-width="0.85" stroke-linejoin="round"/>
<path d="M60.30,873.80 C61.60,873.47 65.70,872.35 68.10,871.80 C70.50,871.25 72.72,870.50 74.70,870.50 C76.68,870.50 78.25,871.37 80.00,871.80 C81.75,872.23 83.02,872.88 85.20,873.10 C87.38,873.32 91.02,873.63 93.10,873.10 C95.18,872.57 96.38,871.97 97.70,869.90 C99.02,867.83 100.02,864.22 101.00,860.70 C101.98,857.18 102.62,853.62 103.60,848.80 C104.58,843.98 105.92,836.83 106.90,831.80 C107.88,826.77 108.73,822.12 109.50,818.60 C110.27,815.08 110.83,812.33 111.50,810.70 C112.17,809.07 112.85,808.58 113.50,808.80 C114.15,809.02 114.63,809.48 115.40,812.00 C116.17,814.52 117.22,819.07 118.10,823.90 C118.98,828.73 119.83,835.53 120.70,841.00 C121.57,846.47 122.32,852.12 123.30,856.70 C124.28,861.28 125.28,865.65 126.60,868.50 C127.92,871.35 130.43,872.92 131.20,873.80" fill="none" stroke="#d44848" stroke-width="0.85" stroke-dasharray="1.7,1.1" stroke-linejoin="round"/>
<path d="M31.00,765.40 V873.80 H194.40" fill="none" stroke="#222" stroke-width="1.2"/>
<line x1="26.60" y1="873.80" x2="31.00" y2="873.80" stroke="#222" stroke-width="1.1"/>
<text transform="translate(25.20,877.10) scale(0.860,1)" font-size="9.30" font-weight="bold" text-anchor="end">0</text>
<line x1="26.60" y1="846.70" x2="31.00" y2="846.70" stroke="#222" stroke-width="1.1"/>
<text transform="translate(25.20,850.00) scale(0.860,1)" font-size="9.30" font-weight="bold" text-anchor="end">5</text>
<line x1="26.60" y1="819.60" x2="31.00" y2="819.60" stroke="#222" stroke-width="1.1"/>
<text transform="translate(25.20,822.90) scale(0.860,1)" font-size="9.30" font-weight="bold" text-anchor="end">10</text>
<line x1="26.60" y1="792.50" x2="31.00" y2="792.50" stroke="#222" stroke-width="1.1"/>
<text transform="translate(25.20,795.80) scale(0.860,1)" font-size="9.30" font-weight="bold" text-anchor="end">15</text>
<line x1="26.60" y1="765.40" x2="31.00" y2="765.40" stroke="#222" stroke-width="1.1"/>
<text transform="translate(25.20,768.70) scale(0.860,1)" font-size="9.30" font-weight="bold" text-anchor="end">20</text>
<line x1="31.00" y1="873.80" x2="31.00" y2="878.20" stroke="#222" stroke-width="1.2"/>
<text transform="translate(31.00,887.80) scale(0.860,1)" font-size="9.30" font-weight="bold" text-anchor="middle">0.01</text>
<line x1="63.68" y1="873.80" x2="63.68" y2="878.20" stroke="#222" stroke-width="1.2"/>
<text transform="translate(63.68,887.80) scale(0.860,1)" font-size="9.30" font-weight="bold" text-anchor="middle">0.1</text>
<line x1="96.36" y1="873.80" x2="96.36" y2="878.20" stroke="#222" stroke-width="1.2"/>
<text transform="translate(96.36,887.80) scale(0.860,1)" font-size="9.30" font-weight="bold" text-anchor="middle">1</text>
<line x1="129.04" y1="873.80" x2="129.04" y2="878.20" stroke="#222" stroke-width="1.2"/>
<text transform="translate(129.04,887.80) scale(0.860,1)" font-size="9.30" font-weight="bold" text-anchor="middle">10</text>
<line x1="161.72" y1="873.80" x2="161.72" y2="878.20" stroke="#222" stroke-width="1.2"/>
<text transform="translate(161.72,887.80) scale(0.860,1)" font-size="9.30" font-weight="bold" text-anchor="middle">100</text>
<line x1="194.40" y1="873.80" x2="194.40" y2="878.20" stroke="#222" stroke-width="1.2"/>
<text transform="translate(194.40,887.80) scale(0.860,1)" font-size="9.30" font-weight="bold" text-anchor="middle">1000</text>
<text x="112.70" y="900.80" font-size="9.1" font-weight="bold" text-anchor="middle">Diameter (µm)</text>
<text transform="translate(11.00,819.60) rotate(-90)" font-size="9.1" font-weight="bold" text-anchor="middle">Fraction (%)</text>
<text transform="translate(112.70,750.70) scale(1.05,1)" font-size="9.8" font-weight="bold" text-anchor="middle" style="stroke:#111;stroke-width:0.22px">Talc non-milled</text>
<path d="M350.00,874.00 C350.20,872.63 350.70,871.02 351.20,865.80 C351.70,860.58 352.40,850.18 353.00,842.70 C353.60,835.22 354.18,827.57 354.80,820.90 C355.42,814.23 356.08,807.55 356.70,802.70 C357.32,797.85 358.03,794.02 358.50,791.80 C358.97,789.58 359.17,789.20 359.50,789.40 C359.83,789.60 360.07,790.17 360.50,793.00 C360.93,795.83 361.53,801.15 362.10,806.40 C362.67,811.65 363.18,818.85 363.90,824.50 C364.62,830.15 365.58,836.05 366.40,840.30 C367.22,844.55 367.90,847.37 368.80,850.00 C369.70,852.63 370.80,854.08 371.80,856.10 C372.80,858.12 373.78,860.08 374.80,862.10 C375.82,864.12 376.88,866.48 377.90,868.20 C378.92,869.92 379.58,871.43 380.90,872.40 C382.22,873.37 384.98,873.73 385.80,874.00" fill="none" stroke="#333" stroke-width="0.85" stroke-linejoin="round"/>
<path d="M340.30,874.00 C340.40,870.80 340.65,861.02 340.90,854.80 C341.15,848.58 341.50,841.53 341.80,836.70 C342.10,831.87 342.30,828.53 342.70,825.80 C343.10,823.07 343.68,820.72 344.20,820.30 C344.72,819.88 345.13,821.38 345.80,823.30 C346.47,825.22 347.40,829.98 348.20,831.80 C349.00,833.62 349.70,834.20 350.60,834.20 C351.50,834.20 352.68,833.00 353.60,831.80 C354.52,830.60 355.38,827.90 356.10,827.00 C356.82,826.10 357.30,825.80 357.90,826.40 C358.50,827.00 359.10,828.28 359.70,830.60 C360.30,832.92 360.90,836.67 361.50,840.30 C362.10,843.93 362.58,848.77 363.30,852.40 C364.02,856.03 364.88,859.67 365.80,862.10 C366.72,864.53 367.50,865.68 368.80,867.00 C370.10,868.32 371.98,869.20 373.60,870.00 C375.22,870.80 376.88,871.25 378.50,871.80 C380.12,872.35 382.05,872.93 383.30,873.30 C384.55,873.67 385.55,873.88 386.00,874.00" fill="none" stroke="#333" stroke-width="0.85" stroke-dasharray="1.7,1.1" stroke-linejoin="round"/>
<path d="M346.00,874.00 C346.67,873.93 348.63,874.17 350.00,873.60 C351.37,873.03 352.78,872.12 354.20,870.60 C355.62,869.08 357.08,866.12 358.50,864.50 C359.92,862.88 361.38,861.90 362.70,860.90 C364.02,859.90 365.28,859.52 366.40,858.50 C367.52,857.48 368.50,856.82 369.40,854.80 C370.30,852.78 371.00,849.22 371.80,846.40 C372.60,843.58 373.38,839.93 374.20,837.90 C375.02,835.87 375.98,834.20 376.70,834.20 C377.42,834.20 377.80,836.07 378.50,837.90 C379.20,839.73 380.00,842.38 380.90,845.20 C381.80,848.02 382.78,851.98 383.90,854.80 C385.02,857.62 386.28,860.17 387.60,862.10 C388.92,864.03 390.28,865.38 391.80,866.40 C393.32,867.42 394.88,867.80 396.70,868.20 C398.52,868.60 400.98,868.67 402.70,868.80 C404.42,868.93 405.50,868.67 407.00,869.00 C408.50,869.33 409.95,870.20 411.70,870.80 C413.45,871.40 415.55,872.35 417.50,872.60 C419.45,872.85 421.45,872.50 423.40,872.30 C425.35,872.10 427.27,871.78 429.20,871.40 C431.13,871.02 433.05,870.88 435.00,870.00 C436.95,869.12 439.15,867.23 440.90,866.10 C442.65,864.97 444.15,863.88 445.50,863.20 C446.85,862.52 447.92,861.42 449.00,862.00 C450.08,862.58 450.92,864.70 452.00,866.70 C453.08,868.70 454.92,872.78 455.50,874.00" fill="none" stroke="#d44848" stroke-width="0.85" stroke-linejoin="round"/>
<path d="M346.00,874.00 C346.77,873.93 349.23,874.47 350.60,873.60 C351.97,872.73 353.08,870.72 354.20,868.80 C355.32,866.88 356.28,863.52 357.30,862.10 C358.32,860.68 359.20,860.30 360.30,860.30 C361.40,860.30 362.78,861.60 363.90,862.10 C365.02,862.60 365.98,863.50 367.00,863.30 C368.02,863.10 368.90,862.72 370.00,860.90 C371.10,859.08 372.38,855.02 373.60,852.40 C374.82,849.78 376.18,847.02 377.30,845.20 C378.42,843.38 379.30,842.22 380.30,841.50 C381.30,840.78 382.18,840.48 383.30,840.90 C384.42,841.32 385.58,842.48 387.00,844.00 C388.42,845.52 389.98,847.98 391.80,850.00 C393.62,852.02 395.88,853.88 397.90,856.10 C399.92,858.32 402.08,861.08 403.90,863.30 C405.72,865.52 406.92,867.85 408.80,869.40 C410.68,870.95 412.77,871.98 415.20,872.60 C417.63,873.22 420.10,873.02 423.40,873.10 C426.70,873.18 432.08,873.28 435.00,873.10 C437.92,872.92 439.43,872.28 440.90,872.00 C442.37,871.72 442.83,871.35 443.80,871.40 C444.77,871.45 445.83,871.95 446.70,872.30 C447.57,872.65 448.28,873.22 449.00,873.50 C449.72,873.78 450.67,873.92 451.00,874.00" fill="none" stroke="#d44848" stroke-width="0.85" stroke-dasharray="1.7,1.1" stroke-linejoin="round"/>
<path d="M307.50,765.40 V873.80 H470.90" fill="none" stroke="#222" stroke-width="1.2"/>
<line x1="303.10" y1="873.80" x2="307.50" y2="873.80" stroke="#222" stroke-width="1.1"/>
<text transform="translate(301.70,877.10) scale(0.860,1)" font-size="9.30" font-weight="bold" text-anchor="end">0</text>
<line x1="303.10" y1="846.70" x2="307.50" y2="846.70" stroke="#222" stroke-width="1.1"/>
<text transform="translate(301.70,850.00) scale(0.860,1)" font-size="9.30" font-weight="bold" text-anchor="end">5</text>
<line x1="303.10" y1="819.60" x2="307.50" y2="819.60" stroke="#222" stroke-width="1.1"/>
<text transform="translate(301.70,822.90) scale(0.860,1)" font-size="9.30" font-weight="bold" text-anchor="end">10</text>
<line x1="303.10" y1="792.50" x2="307.50" y2="792.50" stroke="#222" stroke-width="1.1"/>
<text transform="translate(301.70,795.80) scale(0.860,1)" font-size="9.30" font-weight="bold" text-anchor="end">15</text>
<line x1="303.10" y1="765.40" x2="307.50" y2="765.40" stroke="#222" stroke-width="1.1"/>
<text transform="translate(301.70,768.70) scale(0.860,1)" font-size="9.30" font-weight="bold" text-anchor="end">20</text>
<line x1="307.50" y1="873.80" x2="307.50" y2="878.20" stroke="#222" stroke-width="1.2"/>
<text transform="translate(307.50,887.80) scale(0.860,1)" font-size="9.30" font-weight="bold" text-anchor="middle">0.01</text>
<line x1="340.18" y1="873.80" x2="340.18" y2="878.20" stroke="#222" stroke-width="1.2"/>
<text transform="translate(340.18,887.80) scale(0.860,1)" font-size="9.30" font-weight="bold" text-anchor="middle">0.1</text>
<line x1="372.86" y1="873.80" x2="372.86" y2="878.20" stroke="#222" stroke-width="1.2"/>
<text transform="translate(372.86,887.80) scale(0.860,1)" font-size="9.30" font-weight="bold" text-anchor="middle">1</text>
<line x1="405.54" y1="873.80" x2="405.54" y2="878.20" stroke="#222" stroke-width="1.2"/>
<text transform="translate(405.54,887.80) scale(0.860,1)" font-size="9.30" font-weight="bold" text-anchor="middle">10</text>
<line x1="438.22" y1="873.80" x2="438.22" y2="878.20" stroke="#222" stroke-width="1.2"/>
<text transform="translate(438.22,887.80) scale(0.860,1)" font-size="9.30" font-weight="bold" text-anchor="middle">100</text>
<line x1="470.90" y1="873.80" x2="470.90" y2="878.20" stroke="#222" stroke-width="1.2"/>
<text transform="translate(470.90,887.80) scale(0.860,1)" font-size="9.30" font-weight="bold" text-anchor="middle">1000</text>
<text x="389.20" y="900.80" font-size="9.1" font-weight="bold" text-anchor="middle">Diameter (µm)</text>
<text transform="translate(287.50,819.60) rotate(-90)" font-size="9.1" font-weight="bold" text-anchor="middle">Fraction (%)</text>
<text transform="translate(389.20,750.70) scale(1.05,1)" font-size="9.8" font-weight="bold" text-anchor="middle" style="stroke:#111;stroke-width:0.22px">Talc milled</text>
<line x1="540.9" y1="736.20" x2="561.6" y2="736.20" stroke="#444" stroke-width="1.4"/>
<text transform="translate(572.8,741.10) scale(1.045,1)" font-size="15.4" style="fill:#1c1c1c">t=0h Number</text>
<line x1="540.9" y1="768.10" x2="561.6" y2="768.10" stroke="#666" stroke-width="1.0" stroke-dasharray="2.3,1.3"/>
<text transform="translate(572.8,773.00) scale(1.045,1)" font-size="15.4" style="fill:#1c1c1c">t= 24h Number</text>
<line x1="540.9" y1="799.70" x2="561.6" y2="799.70" stroke="#d84848" stroke-width="1.4"/>
<text transform="translate(572.8,804.60) scale(1.045,1)" font-size="15.4" style="fill:#1c1c1c">t=0h Volume</text>
<line x1="540.9" y1="831.50" x2="561.6" y2="831.50" stroke="#dd5555" stroke-width="1.0" stroke-dasharray="2.3,1.3"/>
<text transform="translate(572.8,836.40) scale(1.045,1)" font-size="15.4" style="fill:#1c1c1c">t=24h Volume</text>
</svg>
</body></html>
